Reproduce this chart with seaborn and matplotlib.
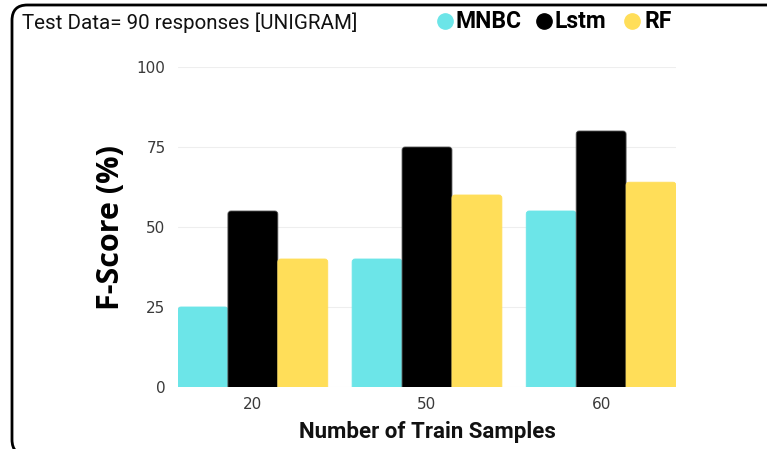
import matplotlib
matplotlib.use("Agg")
import matplotlib.pyplot as plt
from matplotlib.patches import FancyBboxPatch
from matplotlib.lines import Line2D
import seaborn as sns
import pandas as pd

# Data
samples = ["20", "50", "60"]
models = ["MNBC", "Lstm", "RF"]
mnbc = [25, 40, 55]
lstm = [55, 75, 80]
rf = [40, 60, 64]
yticks = [0, 25, 50, 75, 100]
colors = {"MNBC": "#6ce5e8", "Lstm": "#000000", "RF": "#ffde59"}

df = pd.DataFrame({
    "samples": samples * 3,
    "model": ["MNBC"] * 3 + ["Lstm"] * 3 + ["RF"] * 3,
    "score": mnbc + lstm + rf,
})

sns.set_theme(style="white")
narrow = ["Roboto", "DejaVu Sans"]

W, H = 767, 449
fig = plt.figure(figsize=(W / 100, H / 100), dpi=100)
ax = fig.add_axes([178 / W, 62 / H, 498 / W, 320 / H])

sns.barplot(data=df, x="samples", y="score", hue="model", order=samples,
            hue_order=models, palette=colors, width=0.86, gap=0,
            saturation=1, ax=ax, legend=False, zorder=3, linewidth=0)

# Round the top corners of each bar
rx = 3 / 174.5
ry = 3 / 3.2
for p in list(ax.patches):
    x0, y0 = p.get_x(), p.get_y()
    w, h = p.get_width(), p.get_height()
    fc = p.get_facecolor()
    p.remove()
    ec = "#555555" if fc[0] < 0.1 else fc
    rb = FancyBboxPatch((x0, y0 - 3), w, h + 3,
                        boxstyle=f"round,pad=0,rounding_size={rx}",
                        mutation_aspect=ry / rx, facecolor=fc,
                        edgecolor=ec, linewidth=0.6, zorder=3)
    ax.add_patch(rb)

ax.set_xlim(-0.43, 2.43)
ax.set_ylim(0, 100)
ax.set_yticks(yticks)
ax.set_yticklabels([str(t) for t in yticks])
ax.yaxis.grid(True, color="#eeeeee", linewidth=0.8, zorder=0)
ax.xaxis.grid(False)
for s in ax.spines.values():
    s.set_visible(False)
ax.tick_params(axis="both", length=0, labelsize=11, colors="#3a3a3a",
               labelfontfamily="DejaVu Sans")
ax.tick_params(axis="y", pad=9)
ax.tick_params(axis="x", pad=7)

ax.set_xlabel("Number of Train Samples", family=narrow, fontweight="bold",
              fontsize=16, color="#111111", labelpad=7)
ax.set_ylabel("F-Score (%)", family=["Open Sans", "DejaVu Sans"],
              fontweight="bold", fontsize=22, color="#000000", labelpad=8)

fig.text(22 / W, 1 - 23 / H, "Test Data= 90 responses [UNIGRAM]",
         family=narrow, fontsize=14.8, color="#111111", va="center", ha="left")

# Legend
leg_items = [("MNBC", 445, 456), ("Lstm", 544, 555), ("RF", 632, 644)]
for name, cx, tx in leg_items:
    fig.add_artist(Line2D([cx / W], [1 - 21 / H], marker="o", markersize=11,
                          color=colors[name], linestyle="none",
                          transform=fig.transFigure))
    fig.text(tx / W, 1 - 21 / H, name, family=narrow, fontweight="bold",
             fontsize=16.5, color="#000000", va="center", ha="left")

# Rounded frame around the figure
frame = FancyBboxPatch((12 / W, -6 / H), 800 / W, (H - 5 + 6) / H,
                       boxstyle="round,pad=0,rounding_size=0.02",
                       mutation_aspect=W / H, transform=fig.transFigure,
                       facecolor="none", edgecolor="#000000", linewidth=2)
fig.add_artist(frame)

fig.savefig("out.png", dpi=100)
